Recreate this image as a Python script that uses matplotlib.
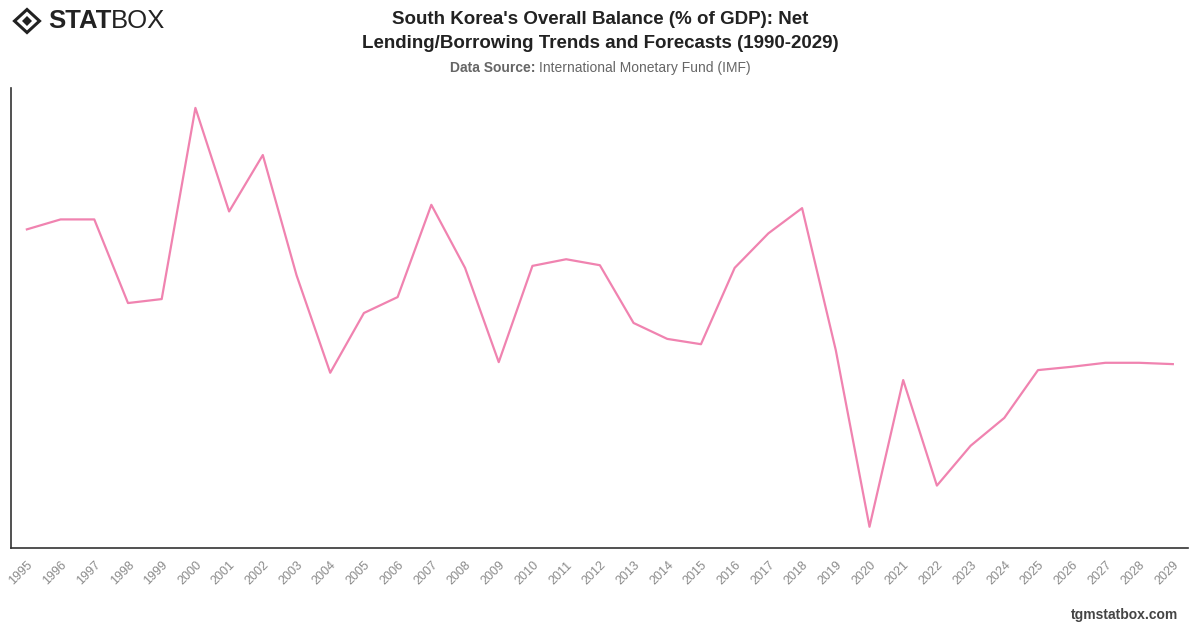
import matplotlib.pyplot as plt
from matplotlib.patches import Polygon

plt.rcParams['font.family'] = ['Liberation Sans', 'DejaVu Sans']

years = list(range(1995, 2030))
balance = [2.28, 2.43, 2.43, 1.17, 1.23, 4.11, 2.55, 3.40, 1.59, 0.12,
           1.02, 1.26, 2.65, 1.70, 0.28, 1.73, 1.83, 1.74, 0.87, 0.63,
           0.55, 1.70, 2.22, 2.60, 0.46, -2.20, 0.01, -1.58, -0.98, -0.56,
           0.16, 0.21, 0.27, 0.27, 0.25]
tick_labels = [str(y) for y in years]

fig = plt.figure(figsize=(12, 6.28), dpi=100)
ax = fig.add_axes([0.0092, 0.1274, 0.9808, 0.7325])

ax.plot(years, balance, color='#f083b0', linewidth=1.6)
ax.set_xlim(1994.53, 2029.45)
ax.set_ylim(-2.52, 4.41)

ax.set_xticks(years)
ax.set_xticklabels(tick_labels, rotation=45, ha='right', rotation_mode='anchor',
                   fontsize=9, color='#8a8a8a')
ax.set_yticks([])
ax.tick_params(axis='x', length=0, pad=8)
for s in ['top', 'right']:
    ax.spines[s].set_visible(False)
for s in ['left', 'bottom']:
    ax.spines[s].set_color('#333333')
    ax.spines[s].set_linewidth(1.2)

# title and source
fig.text(0.5, 1 - 20 / 628, "South Korea's Overall Balance (% of GDP): Net",
         ha='center', va='center', fontsize=13.5, fontweight='bold', color='#222222')
fig.text(0.5, 1 - 43 / 628, "Lending/Borrowing Trends and Forecasts (1990-2029)",
         ha='center', va='center', fontsize=13.5, fontweight='bold', color='#222222')

renderer = fig.canvas.get_renderer()
sy = 1 - 68 / 628
t1 = fig.text(0, sy, "Data Source: ", ha='left', va='center', fontsize=10,
              fontweight='bold', color='#666666')
t2 = fig.text(0, sy, "International Monetary Fund (IMF)", ha='left', va='center',
              fontsize=10, color='#666666')
w1 = t1.get_window_extent(renderer).width / 1200
w2 = t2.get_window_extent(renderer).width / 1200
x0 = 0.5 - (w1 + w2) / 2
t1.set_x(x0)
t2.set_x(x0 + w1)

# logo
cx, cy = 27 / 1200, 1 - 21 / 628
w, h = 12.5 / 1200, 11.5 / 628
fig.patches.append(Polygon([[cx - w, cy], [cx, cy + h], [cx + w, cy], [cx, cy - h]],
                           closed=True, fill=False, edgecolor='#222222', linewidth=2.2,
                           transform=fig.transFigure, figure=fig))
wi, hi = 5 / 1200, 5 / 628
fig.patches.append(Polygon([[cx - wi, cy], [cx, cy + hi], [cx + wi, cy], [cx, cy - hi]],
                           closed=True, facecolor='#222222', edgecolor='none',
                           transform=fig.transFigure, figure=fig))
ls = fig.text(48 / 1200, cy, "STAT", ha='left', va='center', fontsize=18.5,
              fontweight='bold', color='#222222')
lw = ls.get_window_extent(renderer).width / 1200
fig.text(48 / 1200 + lw, cy, "BOX", ha='left', va='center', fontsize=18.5,
         color='#222222')

fig.text(0.982, 1 - 615 / 628, "tgmstatbox.com", ha='right', va='center', fontsize=10,
         fontweight='bold', color='#444444')

fig.savefig('out.png', dpi=100)
